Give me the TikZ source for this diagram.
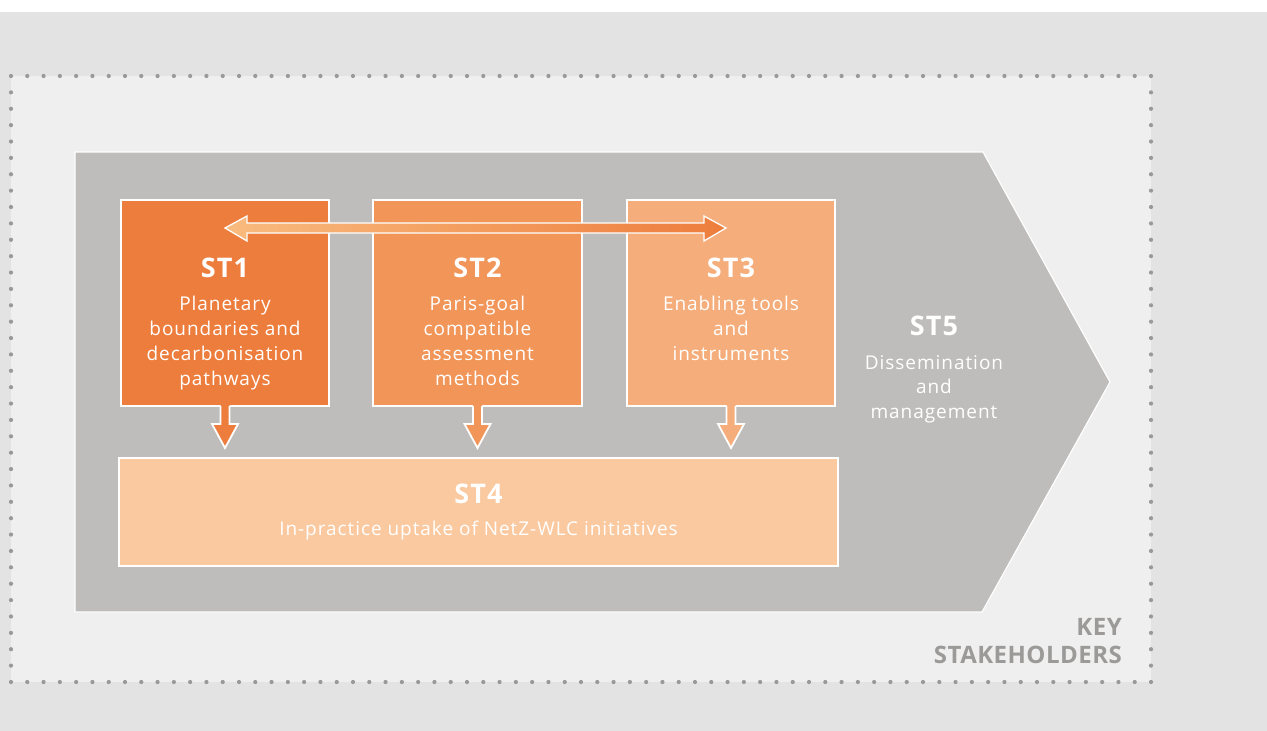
\documentclass[tikz,border=0pt]{standalone}
\usepackage{fontspec}
\setmainfont{Open Sans}
\newfontfamily\bodyfont[LetterSpace=5]{Open Sans}
\newfontfamily\titlefont[LetterSpace=4]{Open Sans}
\newfontfamily\keyfont[LetterSpace=2]{Open Sans}
\usetikzlibrary{calc}
\definecolor{bgouter}{HTML}{E3E3E3}
\definecolor{bginner}{HTML}{EFEFEF}
\definecolor{dotc}{HTML}{999999}
\definecolor{pent}{HTML}{BEBDBB}
\definecolor{cone}{HTML}{ED7D3D}
\definecolor{ctwo}{HTML}{F19558}
\definecolor{cthree}{HTML}{F5AE7B}
\definecolor{cfour}{HTML}{FBC9A0}
\definecolor{keyc}{HTML}{9B9A98}
\definecolor{arrL}{HTML}{F9BB7E}
\definecolor{arrR}{HTML}{ED7D3D}
\newcommand{\dnarr}[2]{%
  \fill[#2] ($(#1.south)+(-4.5,-3)$) -- ($(#1.south)+(-4.5,18)$) -- ($(#1.south)+(-13,18)$) -- ($(#1.south)+(0,42)$) -- ($(#1.south)+(13,18)$) -- ($(#1.south)+(4.5,18)$) -- ($(#1.south)+(4.5,-3)$) -- cycle;
  \draw[white, line width=1.8pt, line join=miter] ($(#1.south)+(-4.5,0)$) -- ($(#1.south)+(-4.5,18)$) -- ($(#1.south)+(-13,18)$) -- ($(#1.south)+(0,42)$) -- ($(#1.south)+(13,18)$) -- ($(#1.south)+(4.5,18)$) -- ($(#1.south)+(4.5,0)$);}
\begin{document}
\begin{tikzpicture}[x=1pt,y=-1pt,
  box/.style={draw=white, line width=2pt, outer sep=0pt, inner sep=0pt},
  bodytxt/.style={text=white, font=\bodyfont\fontsize{19}{25}\selectfont, anchor=base, inner sep=0pt},
  titletxt/.style={text=white, font=\titlefont\bfseries\fontsize{27}{30}\selectfont, anchor=base, inner sep=0pt},
  keytxt/.style={text=keyc, font=\keyfont\bfseries\fontsize{24}{28}\selectfont, anchor=base east, inner sep=0pt}]
\useasboundingbox (0,0) rectangle (1267,731);
\fill[white] (0,0) rectangle (1267,12);
\fill[bgouter] (0,12) rectangle (1267,731);
\fill[bginner] (11,76) rectangle (1151,682);
% dotted border
\foreach \i in {0,...,70} {
  \fill[dotc] ({11+\i*16.2857},76) circle (2.1);
  \fill[dotc] ({11+\i*16.2857},682) circle (2.1);
}
\foreach \j in {1,...,36} {
  \fill[dotc] (11,{76+\j*16.378}) circle (2.1);
  \fill[dotc] (1151,{76+\j*16.378}) circle (2.1);
}
% big arrow shape ST5
\filldraw[fill=pent, draw=white, line width=1.2pt] (75,152) -- (983,152) -- (1110,382) -- (982,612) -- (75,612) -- cycle;
% boxes
\node[box, fill=cone, minimum width=208pt, minimum height=206pt] (st1) at (225,303) {};
\node[box, fill=ctwo, minimum width=209pt, minimum height=206pt] (st2) at (477.5,303) {};
\node[box, fill=cthree, minimum width=208pt, minimum height=206pt] (st3) at (731,303) {};
\node[box, fill=cfour, minimum width=719pt, minimum height=108pt] (st4) at (478.5,512) {};
% down arrows
\dnarr{st1}{cone}
\dnarr{st2}{ctwo}
\dnarr{st3}{cthree}
% double arrow
\shadedraw[left color=arrL, right color=arrR, draw=white, line width=1.3pt]
  (225,228) -- (247,216) -- (247,223) -- (704,223) -- (704,216) -- (726,228) -- (704,241) -- (704,233) -- (247,233) -- (247,241) -- cycle;
% texts
\node[titletxt] (t1) at (225,277) {ST1};
\foreach \t [count=\i] in {Planetary, boundaries and, decarbonisation, pathways}
  \node[bodytxt] (b1\i) at (225,{285+25*\i}) {\t};
\node[titletxt] (t2) at (477.5,277) {ST2};
\foreach \t [count=\i] in {Paris-goal, compatible, assessment, methods}
  \node[bodytxt] (b2\i) at (477.5,{285+25*\i}) {\t};
\node[titletxt] (t3) at (731,277) {ST3};
\foreach \t [count=\i] in {Enabling tools, and, instruments}
  \node[bodytxt] (b3\i) at (731,{285+25*\i}) {\t};
\node[titletxt] (t4) at (478.5,503) {ST4};
\node[bodytxt] (b4) at (478.5,535) {In-practice uptake of NetZ-WLC initiatives};
\node[titletxt] (t5) at (934,335) {ST5};
\foreach \t [count=\i] in {Dissemination, and, management}
  \node[bodytxt] (b5\i) at (934,{344.5+24.5*\i}) {\t};
\node[keytxt] (k1) at (1122,635) {KEY};
\node[keytxt] (k2) at (1122,663) {STAKEHOLDERS};
\end{tikzpicture}
\end{document}
